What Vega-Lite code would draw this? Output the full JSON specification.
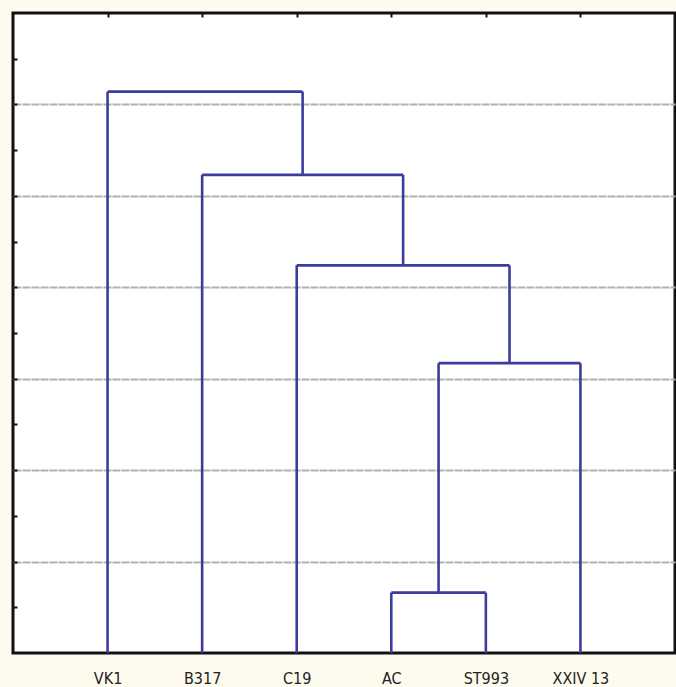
{
  "$schema": "https://vega.github.io/schema/vega-lite/v6.json",
  "autosize": "none",
  "width": 662,
  "height": 640,
  "padding": {"left": 13, "top": 13, "right": 1, "bottom": 34},
  "background": "#fdfbee",
  "config": {
    "view": {"stroke": "#111111", "strokeWidth": 3, "fill": "#ffffff"},
    "font": "'DejaVu Sans Condensed', 'Liberation Sans', sans-serif"
  },
  "data": {
    "values": [
      {"x": 4, "x2": 4, "y": 0, "y2": 0.66},
      {"x": 5, "x2": 5, "y": 0, "y2": 0.66},
      {"x": 4, "x2": 5, "y": 0.66, "y2": 0.66},
      {"x": 4.5, "x2": 4.5, "y": 0.66, "y2": 3.17},
      {"x": 6, "x2": 6, "y": 0, "y2": 3.17},
      {"x": 4.5, "x2": 6, "y": 3.17, "y2": 3.17},
      {"x": 3, "x2": 3, "y": 0, "y2": 4.24},
      {"x": 5.25, "x2": 5.25, "y": 3.17, "y2": 4.24},
      {"x": 3, "x2": 5.25, "y": 4.24, "y2": 4.24},
      {"x": 2, "x2": 2, "y": 0, "y2": 5.23},
      {"x": 4.125, "x2": 4.125, "y": 4.24, "y2": 5.23},
      {"x": 2, "x2": 4.125, "y": 5.23, "y2": 5.23},
      {"x": 1, "x2": 1, "y": 0, "y2": 6.14},
      {"x": 3.0625, "x2": 3.0625, "y": 5.23, "y2": 6.14},
      {"x": 1, "x2": 3.0625, "y": 6.14, "y2": 6.14}
    ]
  },
  "layer": [
    {
      "mark": {"type": "rule", "color": "#3c3c9e", "strokeWidth": 2.6},
      "encoding": {
        "x": {
          "field": "x", "type": "quantitative",
          "scale": {"domain": [0, 7], "nice": false, "zero": false},
          "axis": {
            "orient": "bottom", "title": null, "values": [1, 2, 3, 4, 5, 6],
            "labelExpr": "['', 'VK1', 'B317', 'C19', 'AC', 'ST993', 'XXIV  13'][datum.value]",
            "ticks": false, "domain": false, "grid": false,
            "labelPadding": 17, "labelFontSize": 16, "labelColor": "#222222",
            "labelFont": "'DejaVu Sans Condensed', 'Liberation Sans', sans-serif"
          }
        },
        "x2": {"field": "x2"},
        "y": {
          "field": "y", "type": "quantitative",
          "scale": {"domain": [0, 7], "nice": false},
          "axis": {
            "orient": "left", "title": null,
            "values": [0.5, 1, 1.5, 2, 2.5, 3, 3.5, 4, 4.5, 5, 5.5, 6, 6.5],
            "labels": false, "domain": false,
            "tickSize": -4, "tickColor": "#111111", "tickWidth": 2,
            "grid": true,
            "gridColor": "#b4b2a6",
            "gridWidth": 2,
            "gridDash": [8, 1],
            "gridOpacity": {"condition": {"test": "datum.value % 1 !== 0", "value": 0}, "value": 1}
          }
        },
        "y2": {"field": "y2"}
      }
    },
    {
      "mark": {"type": "rule", "opacity": 0},
      "encoding": {
        "x": {
          "field": "x", "type": "quantitative",
          "scale": {"domain": [0, 7], "nice": false, "zero": false},
          "axis": {
            "orient": "top", "title": null, "values": [1, 2, 3, 4, 5, 6],
            "labels": false, "domain": false, "grid": false,
            "tickSize": -4, "tickColor": "#111111", "tickWidth": 2
          }
        },
        "x2": {"field": "x2"},
        "y": {"field": "y", "type": "quantitative"},
        "y2": {"field": "y2"}
      }
    }
  ],
  "resolve": {"axis": {"x": "independent", "y": "shared"}}
}
